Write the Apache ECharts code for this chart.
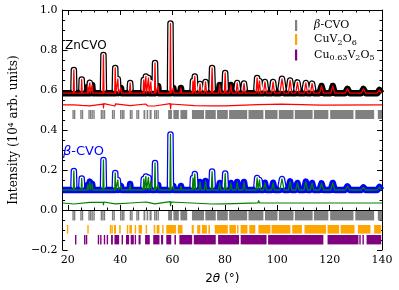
<!DOCTYPE html>
<html><head><meta charset="utf-8">
<script src="https://cdn.jsdelivr.net/npm/echarts@6/dist/echarts.min.js"></script>
<style>html,body{margin:0;padding:0;background:#fff}#c{width:399px;height:290px}</style>
</head><body><div id="c"></div>
<script>
// ---- data ----
const peakPos       = [22.3, 25.3, 27.6, 28.4, 29.3, 33.6, 38.1, 39.1, 40.3, 43.8, 49.0, 49.8, 50.8, 51.7, 53.3, 54.5, 59.2, 60.3, 63.2, 67.8, 68.5, 70.5, 72.6, 75.1, 78.0, 80.1, 82.3, 84.7, 87.3, 92.3, 93.2, 95.3, 98.4, 101.8, 104.9, 107.7, 110.9, 113.3, 116.9, 121.2, 126.8, 132.9, 139.0];
const peakHalfWidth = [0.2, 0.2, 0.25, 0.25, 0.25, 0.2, 0.2, 0.25, 0.25, 0.25, 0.25, 0.25, 0.25, 0.25, 0.2, 0.25, 0.2, 0.25, 0.3, 0.25, 0.25, 0.4, 0.4, 0.3, 0.45, 0.3, 0.45, 0.45, 0.45, 0.4, 0.4, 0.55, 0.55, 0.8, 0.65, 0.65, 0.65, 0.65, 0.75, 0.75, 0.9, 0.9, 0.8];
const znTop         = [0.700, 0.653, 0.615, 0.636, 0.625, 0.775, 0.710, 0.655, 0.610, 0.635, 0.650, 0.668, 0.660, 0.640, 0.735, 0.620, 0.932, 0.610, 0.610, 0.645, 0.668, 0.630, 0.640, 0.710, 0.625, 0.685, 0.625, 0.635, 0.632, 0.660, 0.645, 0.640, 0.640, 0.656, 0.648, 0.638, 0.635, 0.632, 0.620, 0.620, 0.606, 0.605, 0.600];
const bTop          = [0.195, 0.158, 0.125, 0.142, 0.130, 0.250, 0.185, 0.150, 0.120, 0.130, 0.155, 0.168, 0.163, 0.145, 0.235, 0.125, 0.378, 0.120, 0.120, 0.160, 0.180, 0.140, 0.145, 0.192, 0.135, 0.182, 0.135, 0.140, 0.140, 0.160, 0.150, 0.136, 0.136, 0.155, 0.143, 0.135, 0.142, 0.135, 0.133, 0.135, 0.118, 0.113, 0.115];
const znBase = 0.584;
const bBase  = 0.100;

const znDiff = [[18,0.526],[22.2,0.526],[22.3,0.519],[22.45,0.531],[22.6,0.526],[25.3,0.523],[25.4,0.528],[28.3,0.521],[28.5,0.530],[28.7,0.526],[33.5,0.529],[33.6,0.510],[33.75,0.532],[33.9,0.526],[38.0,0.520],[38.2,0.531],[38.4,0.526],[43.8,0.522],[44.0,0.526],[49.7,0.530],[50.5,0.521],[51.0,0.526],[53.2,0.520],[53.4,0.530],[53.6,0.526],[59.1,0.532],[59.25,0.506],[59.4,0.530],[59.6,0.526],[68.4,0.522],[68.6,0.526],[75.0,0.521],[75.2,0.530],[75.4,0.526],[80.1,0.521],[80.3,0.526],[92.5,0.527],[92.8,0.535],[93.1,0.526],[101.6,0.529],[102.0,0.526],[116.9,0.524],[117.1,0.527],[140,0.526]];
const bDiff  = [[18,0.035],[22.3,0.030],[22.45,0.040],[22.6,0.035],[28.4,0.038],[28.6,0.033],[33.5,0.038],[33.6,0.026],[33.75,0.040],[33.9,0.035],[38.1,0.031],[38.3,0.037],[44.0,0.035],[49.8,0.040],[50.4,0.030],[51.0,0.037],[53.2,0.031],[53.4,0.040],[53.6,0.035],[59.1,0.042],[59.25,0.022],[59.4,0.040],[59.6,0.035],[75.1,0.030],[75.3,0.038],[80.1,0.031],[80.3,0.035],[92.6,0.036],[92.9,0.047],[93.2,0.035],[140,0.035]];

// Bragg reflection positions (single lines [x,x] or dense ranges [x0,x1])
const grayTicks = [[22.0,22.0],[22.6,22.6],[25.0,25.0],[25.6,25.6],[28.1,28.1],[28.7,28.7],[29.3,29.3],[30.0,30.0],[32.8,32.8],[33.4,33.4],[34.0,34.0],[37.1,37.1],[37.7,37.7],[40.2,40.2],[40.8,40.8],[41.4,41.4],[43.9,43.9],[44.5,44.5],[46.4,46.4],[47.0,47.0],[48.9,49.6],[50.1,50.7],[51.2,52.0],[53.2,53.2],[53.8,53.8],[54.5,54.5],[58.3,59.8],[60.3,62.4],[63.0,65.6],[67.4,72.0],[72.5,76.5],[77.0,81.1],[81.6,88.5],[89.0,94.7],[95.3,100.1],[100.6,106.2],[106.7,113.5],[114.0,119.5],[120.2,129.1],[129.8,137.0],[138.4,140.0]];
const orangeTicks = [[19.9,19.9],[27.7,27.7],[36.3,36.3],[36.9,36.9],[37.6,38.4],[39.6,40.2],[42.8,42.8],[43.5,44.5],[45.8,45.8],[47.0,48.3],[49.8,50.2],[52.8,53.4],[53.9,55.0],[56.3,56.3],[57.6,61.3],[62.0,63.8],[67.3,68.1],[69.4,70.6],[71.2,73.1],[73.7,74.3],[76.1,81.1],[81.7,84.2],[84.8,85.0],[86.0,88.6],[89.3,91.6],[92.8,97.4],[97.8,105.0],[105.7,109.4],[110.4,118.6],[119.2,123.6],[124.2,129.5],[130.8,135.6],[137.0,139.7]];
const purpleTicks = [[22.9,23.1],[26.3,26.6],[27.0,27.3],[31.7,31.7],[32.4,32.8],[34.0,34.0],[34.9,35.3],[36.5,37.2],[37.8,39.6],[40.8,40.8],[42.2,43.4],[44.0,45.2],[45.8,45.8],[47.0,47.8],[49.5,51.3],[52.6,55.0],[55.6,56.4],[57.6,59.5],[60.7,61.3],[62.6,67.5],[68.1,76.5],[77.4,85.4],[86.0,95.9],[96.5,117.6],[119.2,131.0],[131.6,131.6],[132.8,132.8],[134.1,139.7]];

const xMajor = [20, 40, 60, 80, 100, 120, 140];
const xMinor = [25, 30, 35, 45, 50, 55, 65, 70, 75, 85, 90, 95, 105, 110, 115, 125, 130, 135];

// ---- build series data from the arrays ----
function profile(base, tops) {
  const pts = [[18, base]];
  peakPos.forEach((p, i) => {
    const w = peakHalfWidth[i];
    pts.push([p - w, base], [p, tops[i]], [p + w, base]);
  });
  pts.push([140, base]);
  return pts;
}
function tubeInner(base, tops, lift) {
  const pts = [];
  peakPos.forEach((p, i) => {
    const h = tops[i] - base;
    if (h < 0.045) return;
    const w = peakHalfWidth[i] * (1 - lift / h);
    pts.push([p - w, base + lift], [p, tops[i]], [p + w, base + lift], [p, '-']);
  });
  return pts;
}
function tickSeries(name, ranges, y0, y1, color) {
  return {
    type: 'custom', name, data: ranges, encode: { x: [0, 1] }, itemStyle: { color },
    renderItem: (params, api) => {
      const a = api.coord([api.value(0), y1]);
      const b = api.coord([api.value(1), y0]);
      let w = b[0] - a[0], x = a[0];
      if (w < 1.4) { x = (a[0] + b[0]) / 2 - 0.7; w = 1.4; }
      return { type: 'rect', shape: { x, y: a[1], width: w, height: b[1] - a[1] }, style: { fill: color } };
    }
  };
}
function line(data, color, width, cap) {
  return { type: 'line', data, symbol: 'none', showSymbol: false, silent: true,
    lineStyle: { color, width, join: 'round', cap: cap || 'butt' } };
}

const chart = echarts.init(document.getElementById('c'), null, { renderer: 'canvas' });
const serif = 'DejaVu Serif';
const axX = (pos, vals, len, labels, name) => ({
  type: 'value', min: 18, max: 140, position: pos,
  axisLine: { show: true, lineStyle: { color: '#000', width: 1 } },
  axisTick: { show: true, inside: true, length: len, customValues: vals, lineStyle: { color: '#000', width: 1 } },
  axisLabel: labels ? { customValues: xMajor, fontFamily: serif, fontSize: 11, color: '#000', margin: 5 } : { show: false },
  splitLine: { show: false },
  ...(name ? {
    name: '{n|2}{i|θ}{n| (°)}', nameLocation: 'middle', nameGap: 23,
    nameTextStyle: { rich: { n: { fontFamily: 'DejaVu Sans', fontSize: 12, color: '#000' }, i: { fontFamily: 'DejaVu Sans', fontStyle: 'italic', fontSize: 12, color: '#000' } } }
  } : {})
});
const axY = (pos, labels) => ({
  type: 'value', min: -0.2, max: 1.0, interval: 0.2, position: pos,
  axisLine: { show: true, lineStyle: { color: '#000', width: 1 } },
  axisTick: { show: true, inside: true, length: 5, lineStyle: { color: '#000' } },
  minorTick: { show: true, splitNumber: 4, length: 2.5, lineStyle: { color: '#000' } },
  axisLabel: labels ? { fontFamily: serif, fontSize: 11, color: '#000', margin: 5,
    formatter: v => (v < -1e-9 ? '\u2212' : '') + Math.abs(v).toFixed(1) } : { show: false },
  splitLine: { show: false }, minorSplitLine: { show: false },
  ...(labels ? { name: 'Intensity (10⁴ arb. units)', nameLocation: 'middle', nameGap: 31,
    nameTextStyle: { fontFamily: serif, fontSize: 12, color: '#000' } } : {})
});

const legendNames = {
  'β-CVO': '{b|β}{t|-CVO}',
  'CuV2O6': '{t|CuV}{s|2}{t|O}{s|6}',
  'Cu0.63V2O5': '{t|Cu}{s|0.63}{t|V}{s|2}{t|O}{s|5}'
};

chart.setOption({
  animation: false,
  backgroundColor: '#fff',
  grid: { left: 53, right: 17, top: 10, bottom: 35, containLabel: false },
  xAxis: [axX('bottom', xMajor, 5, true, true), axX('bottom', xMinor, 2.5, false, false),
          axX('top', xMajor, 5, false, false), axX('top', xMinor, 2.5, false, false)],
  yAxis: [axY('left', true), axY('right', false)],
  legend: {
    orient: 'vertical', left: 290, top: 15, itemWidth: 26, itemHeight: 11, itemGap: 3,
    icon: 'path://M0,0h2v10h-2z', selectedMode: false,
    data: ['β-CVO', 'CuV2O6', 'Cu0.63V2O5'],
    formatter: n => legendNames[n],
    textStyle: { rich: {
      t: { fontFamily: serif, fontSize: 11, color: '#000', lineHeight: 14 },
      b: { fontFamily: serif, fontStyle: 'italic', fontSize: 11, color: '#000', lineHeight: 14 },
      s: { fontFamily: serif, fontSize: 8, color: '#000', lineHeight: 7, verticalAlign: 'bottom' }
    } }
  },
  graphic: [
    { type: 'text', left: 65, top: 40, style: { text: 'ZnCVO', font: '12px "DejaVu Sans"', fill: '#000' } },
    { type: 'text', left: 63, top: 145, style: { text: '{i|β}{n|-CVO}', rich: {
      i: { fontFamily: 'DejaVu Sans', fontStyle: 'italic', fontSize: 13, fill: '#0000ff', color: '#0000ff' },
      n: { fontFamily: 'DejaVu Sans', fontSize: 13, fill: '#0000ff', color: '#0000ff' } } } }
  ],
  series: [
    line(profile(znBase, znTop), '#000', 6.5),
    line(tubeInner(znBase, znTop, 0.02), '#fff', 4, 'round'),
    line(profile(znBase, znTop), '#ff0000', 1.3),
    line(znDiff, '#ff0000', 1.2),
    tickSeries('β-CVO', grayTicks, 0.455, 0.500, '#808080'),
    line(profile(bBase, bTop), '#0000ff', 6.5),
    line(tubeInner(bBase, bTop, 0.02), '#fff', 4, 'round'),
    line(profile(bBase, bTop), '#008000', 1.3),
    line(bDiff, '#008000', 1.2),
    tickSeries('β-CVO', grayTicks, -0.052, -0.005, '#808080'),
    tickSeries('CuV2O6', orangeTicks, -0.118, -0.075, '#ffa500'),
    tickSeries('Cu0.63V2O5', purpleTicks, -0.172, -0.125, '#800080')
  ]
});
</script></body></html>
